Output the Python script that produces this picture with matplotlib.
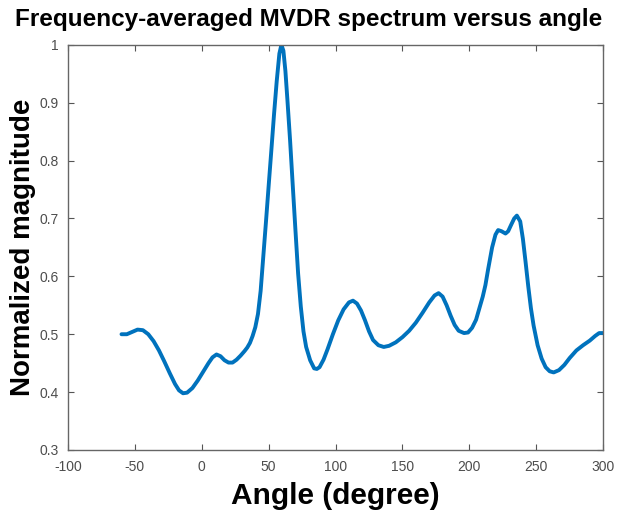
import matplotlib
matplotlib.use("Agg")
import matplotlib.pyplot as plt

plt.rcParams['font.family'] = ['Liberation Sans', 'DejaVu Sans']
plt.rcParams['axes.unicode_minus'] = False

# angle (degree) and normalized MVDR magnitude
angle = [-60, -56, -52, -48, -44, -40, -36, -32, -28, -24, -20, -17, -14, -11, -7, -3,
         1, 5, 8, 11, 14, 17, 20, 23, 26, 29, 32, 34, 36, 38, 40, 42, 44, 46, 48, 50,
         52, 54, 56, 58, 59.5, 61, 62.5, 64, 66, 68, 70, 72, 74, 76, 78, 81, 84, 86,
         88, 91, 94, 98, 102, 106, 110, 113, 116, 119, 122, 125, 128, 132, 136, 140,
         145, 150, 155, 160, 165, 170, 174, 177, 180, 183, 186, 189, 192, 196, 199,
         202, 205, 207.5, 210, 212, 214, 217, 219.5, 221.5, 224, 227, 229, 231, 233.5,
         235.5, 238, 240, 242, 244, 246, 248, 251, 254, 257, 260, 263, 267, 271, 275,
         280, 285, 290, 294, 297, 300]
magnitude = [0.500, 0.500, 0.504, 0.508, 0.507, 0.500, 0.488, 0.472, 0.453, 0.433,
             0.414, 0.403, 0.398, 0.399, 0.407, 0.420, 0.435, 0.450, 0.460, 0.465,
             0.462, 0.455, 0.451, 0.451, 0.456, 0.463, 0.471, 0.477, 0.485, 0.497,
             0.512, 0.535, 0.575, 0.635, 0.695, 0.757, 0.818, 0.880, 0.937, 0.985,
             1.000, 0.990, 0.955, 0.905, 0.835, 0.757, 0.680, 0.605, 0.548, 0.505,
             0.478, 0.455, 0.441, 0.440, 0.443, 0.456, 0.474, 0.500, 0.524, 0.543,
             0.555, 0.558, 0.553, 0.541, 0.524, 0.505, 0.490, 0.481, 0.478, 0.480,
             0.486, 0.495, 0.506, 0.520, 0.537, 0.555, 0.567, 0.571, 0.565, 0.550,
             0.532, 0.516, 0.506, 0.502, 0.503, 0.511, 0.525, 0.545, 0.565, 0.585,
             0.612, 0.650, 0.672, 0.680, 0.678, 0.674, 0.678, 0.688, 0.700, 0.705,
             0.695, 0.665, 0.625, 0.583, 0.545, 0.515, 0.481, 0.458, 0.443, 0.436,
             0.434, 0.438, 0.447, 0.459, 0.472, 0.481, 0.489, 0.497, 0.502, 0.502]

xticks = [-100, -50, 0, 50, 100, 150, 200, 250, 300]
yticks = [0.3, 0.4, 0.5, 0.6, 0.7, 0.8, 0.9, 1.0]
ytick_labels = ['0.3', '0.4', '0.5', '0.6', '0.7', '0.8', '0.9', '1']

fig = plt.figure(figsize=(6.18, 5.22), dpi=100)
ax = fig.add_axes([0.110, 0.138, 0.866, 0.776])

ax.plot(angle, magnitude, color='#0072BD', linewidth=2.8,
        solid_joinstyle='round', solid_capstyle='round')

ax.set_xlim(-100, 300)
ax.set_ylim(0.3, 1.0)
ax.set_xticks(xticks)
ax.set_yticks(yticks)
ax.set_yticklabels(ytick_labels)

ax.tick_params(direction='in', top=True, right=True, length=4, width=0.8,
               colors='#555555', labelsize=10, labelcolor='#4d4d4d')
ax.tick_params(axis='x', pad=7)
ax.tick_params(axis='y', pad=7)
for side in ax.spines.values():
    side.set_color('#666666')
    side.set_linewidth(1.0)

ax.set_xlabel('Angle (degree)', fontsize=21.5, fontweight='bold', labelpad=6)
ax.set_ylabel('Normalized magnitude', fontsize=20, fontweight='bold', labelpad=2)
fig.text(0.5, 0.963, 'Frequency-averaged MVDR spectrum versus angle',
         fontsize=17.5, fontweight='bold', ha='center', va='center')

fig.savefig('out.png', dpi=100)
